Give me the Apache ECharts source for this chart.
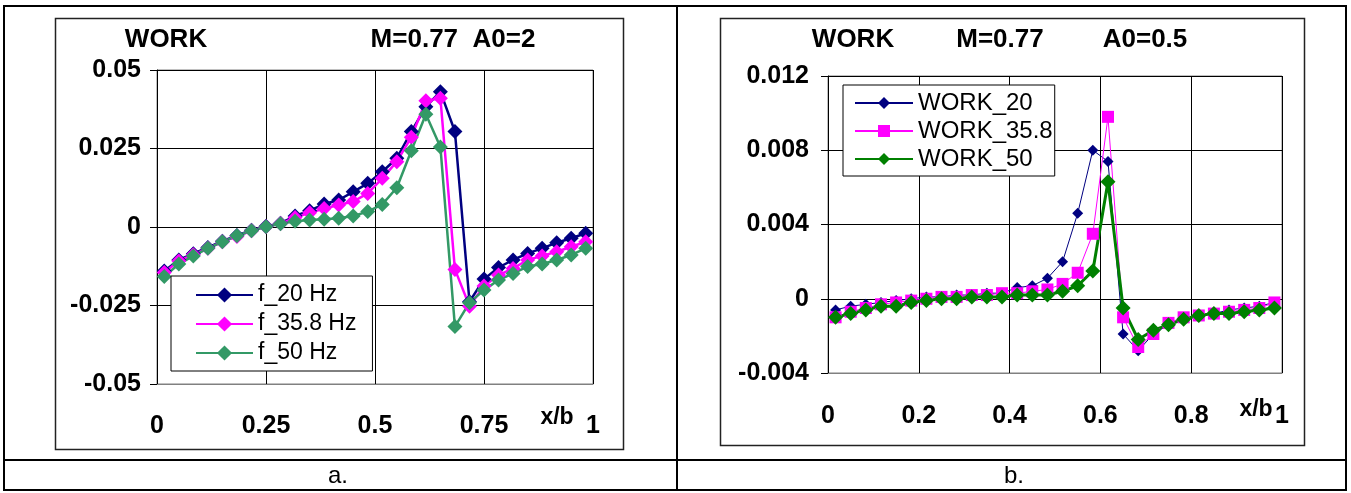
<!DOCTYPE html>
<html>
<head>
<meta charset="utf-8">
<script src="https://cdn.jsdelivr.net/npm/echarts@6/dist/echarts.min.js"></script>
<style>
  html, body { margin: 0; padding: 0; background: #fff; }
  #c { width: 1351px; height: 493px; }
</style>
</head>
<body>
<div id="c"></div>
<script>
const FONT = '"Liberation Sans", Arial, Helvetica, sans-serif';

// Chordwise stations x/b (cell centres, 30 panels)
const stations = [0.0167, 0.05, 0.0833, 0.1167, 0.15, 0.1833, 0.2167, 0.25, 0.2833, 0.3167,
                  0.35, 0.3833, 0.4167, 0.45, 0.4833, 0.5167, 0.55, 0.5833, 0.6167, 0.65,
                  0.6833, 0.7167, 0.75, 0.7833, 0.8167, 0.85, 0.8833, 0.9167, 0.95, 0.9833];

// a. M=0.77, A0=2
const namesA = ['f_20 Hz', 'f_35.8 Hz', 'f_50 Hz'];
const workA20 = [-0.0140, -0.0105, -0.0085, -0.0065, -0.0045, -0.0027, -0.0010, 0.0002, 0.0012, 0.0035,
                 0.0052, 0.0073, 0.0086, 0.0112, 0.0139, 0.0176, 0.0219, 0.0304, 0.0383, 0.0431,
                 0.0304, -0.0238, -0.0166, -0.0129, -0.0105, -0.0084, -0.0068, -0.0050, -0.0036, -0.0020];
const workA35 = [-0.0145, -0.0108, -0.0088, -0.0068, -0.0047, -0.0030, -0.0012, 0.0001, 0.0011, 0.0030,
                 0.0045, 0.0059, 0.0070, 0.0081, 0.0107, 0.0155, 0.0208, 0.0286, 0.0402, 0.0410,
                 -0.0135, -0.0252, -0.0188, -0.0153, -0.0132, -0.0105, -0.0092, -0.0079, -0.0063, -0.0047];
const workA50 = [-0.0158, -0.0118, -0.0092, -0.0068, -0.0047, -0.0028, -0.0012, 0.0001, 0.0010, 0.0018,
                 0.0022, 0.0025, 0.0028, 0.0035, 0.0049, 0.0072, 0.0125, 0.0243, 0.0359, 0.0255,
                 -0.0317, -0.0241, -0.0201, -0.0169, -0.0148, -0.0126, -0.0118, -0.0105, -0.0089, -0.0068];

// b. M=0.77, A0=0.5
const namesB = ['WORK_20', 'WORK_35.8', 'WORK_50'];
const workB20 = [-0.0006, -0.0004, -0.0003, -0.0002, -0.0001, 0.0000, 0.0001, 0.0001, 0.0002, 0.0002,
                 0.0003, 0.0003, 0.0006, 0.0007, 0.0011, 0.0020, 0.0046, 0.0080, 0.0074, -0.0019,
                 -0.0028, -0.0019, -0.0014, -0.0011, -0.0009, -0.0008, -0.0006, -0.0005, -0.0004, -0.0002];
const workB35 = [-0.0010, -0.0007, -0.0005, -0.0003, -0.0002, -0.0001, 0.0000, 0.0001, 0.0001, 0.0002,
                 0.0002, 0.0003, 0.0003, 0.0004, 0.0005, 0.0008, 0.0014, 0.0035, 0.0098, -0.0010,
                 -0.0026, -0.0019, -0.0013, -0.0010, -0.0009, -0.0008, -0.0007, -0.0006, -0.0005, -0.0002];
const workB50 = [-0.0010, -0.0008, -0.0006, -0.0004, -0.0004, -0.0002, -0.0001, 0.0000, 0.0000, 0.0001,
                 0.0001, 0.0001, 0.0002, 0.0002, 0.0002, 0.0004, 0.0007, 0.0015, 0.0063, -0.0005,
                 -0.0022, -0.0017, -0.0014, -0.0011, -0.0009, -0.0008, -0.0008, -0.0007, -0.0006, -0.0005];

const pairs = ys => ys.map((y, i) => [stations[i], y]);

const NAVY = '#000080', MAGENTA = '#ff00ff', SEA = '#339966', GREEN = '#008000';

const tickLabel = { fontSize: 25, fontWeight: 'bold', fontFamily: FONT, color: '#000' };

function xAxisFor(gridIndex, interval, labelMargin, nameGap, namePadTop) {
  return {
    gridIndex, type: 'value', min: 0, max: 1, interval,
    axisLine: { show: true, onZero: false, lineStyle: { color: '#808080', width: 1 } },
    axisTick: { show: false },
    axisLabel: Object.assign({ margin: labelMargin }, tickLabel),
    splitLine: { show: true, lineStyle: { color: '#000', width: 1 } },
    name: 'x/b', nameLocation: 'end', nameGap, nameMoveOverlap: false,
    nameTextStyle: { fontSize: 23, fontWeight: 'bold', fontFamily: FONT, color: '#000',
                     align: 'center', verticalAlign: 'top', padding: [namePadTop, 0, 0, 0] }
  };
}
function yAxisFor(gridIndex, min, max, interval, labelMargin) {
  return {
    gridIndex, type: 'value', min, max, interval,
    axisLine: { show: true, lineStyle: { color: '#000', width: 1 } },
    axisTick: { show: true, inside: false, length: 7, lineStyle: { color: '#000' } },
    axisLabel: Object.assign({ margin: labelMargin }, tickLabel),
    splitLine: { show: true, lineStyle: { color: '#000', width: 1 } }
  };
}
function lineSeries(name, data, xi, color, symbol, size, width) {
  return {
    name, type: 'line', data: pairs(data), xAxisIndex: xi, yAxisIndex: xi,
    symbol, symbolSize: size, showSymbol: true,
    lineStyle: { color, width }, itemStyle: { color, borderWidth: 0 },
    emphasis: { disabled: true }, animation: false, clip: false
  };
}
function text(x, y, str, size, weight) {
  return { type: 'text', x, y, z: 10,
    style: { text: str, fontSize: size, fontWeight: weight, fontFamily: FONT, fill: '#000',
             align: 'center', verticalAlign: 'middle' } };
}
function rect(x, y, w, h, lw, color) {
  return { type: 'rect', shape: { x, y, width: w, height: h }, z: -1,
    style: { fill: 'none', stroke: color, lineWidth: lw } };
}
function line(x1, y1, x2, y2, lw) {
  return { type: 'line', shape: { x1, y1, x2, y2 }, z: -1, style: { stroke: '#000', lineWidth: lw } };
}

const option = {
  backgroundColor: '#fff',
  animation: false,
  grid: [
    { left: 157, top: 70, width: 436, height: 314, show: true, borderColor: '#808080', borderWidth: 1,
      backgroundColor: 'transparent' },
    { left: 828, top: 76, width: 454, height: 297, show: true, borderColor: '#808080', borderWidth: 1,
      backgroundColor: 'transparent' }
  ],
  xAxis: [ xAxisFor(0, 0.25, 30, -36, 22), xAxisFor(1, 0.2, 31, -26, 25) ],
  yAxis: [ yAxisFor(0, -0.05, 0.05, 0.025, 16), yAxisFor(1, -0.004, 0.012, 0.004, 19) ],
  legend: [
    { data: namesA, orient: 'vertical', left: 171, top: 276,
      itemWidth: 57, itemHeight: 19, itemGap: 5, padding: [7, 16, 6, 24],
      borderColor: '#000', borderWidth: 1, backgroundColor: '#fff', selectedMode: false,
      textStyle: { fontSize: 23, fontFamily: FONT, color: '#000', lineHeight: 24 } },
    { data: namesB, orient: 'vertical', left: 843, top: 85,
      itemWidth: 58, itemHeight: 15, itemGap: 4, padding: [6, 2, 5, 11],
      borderColor: '#000', borderWidth: 1, backgroundColor: '#fff', selectedMode: false,
      textStyle: { fontSize: 24, fontFamily: FONT, color: '#000', lineHeight: 24 } }
  ],
  series: [
    lineSeries(namesA[0], workA20, 0, NAVY, 'diamond', 15, 2.5),
    lineSeries(namesA[1], workA35, 0, MAGENTA, 'diamond', 15, 2.5),
    lineSeries(namesA[2], workA50, 0, SEA, 'diamond', 15, 2.5),
    lineSeries(namesB[0], workB20, 1, NAVY, 'diamond', 11, 1),
    lineSeries(namesB[1], workB35, 1, MAGENTA, 'rect', 12, 1),
    lineSeries(namesB[2], workB50, 1, GREEN, 'diamond', 15, 3)
  ],
  graphic: [
    // table cells
    rect(4, 6, 1342, 484, 2, '#000'),
    line(677, 6, 677, 490, 2),
    line(4, 460, 1346, 460, 2),
    // chart frames
    rect(55.5, 18.5, 568, 431, 1.5, '#222'),
    rect(720.5, 18.5, 584, 427, 1.5, '#222'),
    // chart headings
    text(166, 40, 'WORK', 26, 'bold'),
    text(453, 40, 'M=0.77  A0=2', 26, 'bold'),
    text(853, 40, 'WORK', 26, 'bold'),
    text(1000, 40, 'M=0.77', 26, 'bold'),
    text(1145, 40, 'A0=0.5', 26, 'bold'),
    // captions
    text(338, 476, 'a.', 24, 'normal'),
    text(1014, 476, 'b.', 24, 'normal')
  ]
};

const chart = echarts.init(document.getElementById('c'));
chart.setOption(option);
</script>
</body>
</html>
